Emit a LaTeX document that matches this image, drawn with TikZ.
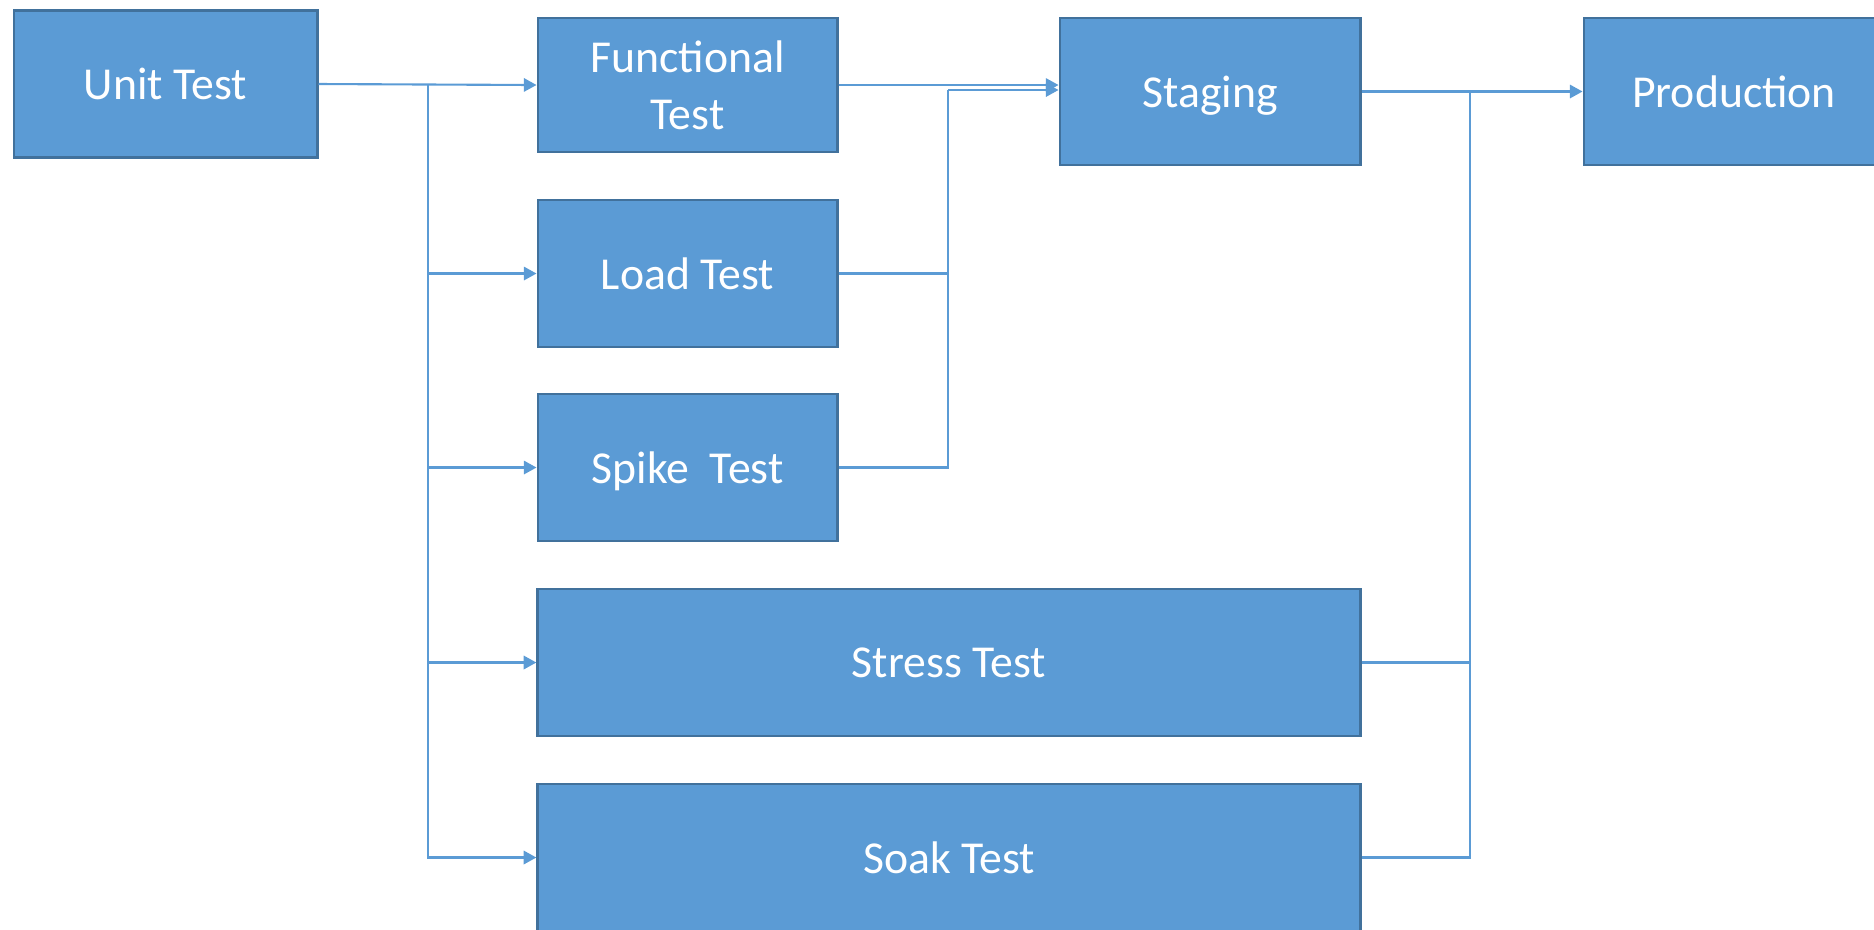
\documentclass[tikz,border=0pt]{standalone}
\usepackage{fontspec}
\setmainfont{Carlito}
\usepackage{tikz}
\usetikzlibrary{arrows.meta,positioning}
\definecolor{boxblue}{HTML}{5B9BD5}
\definecolor{edgeblue}{HTML}{41719C}
\tikzset{
    stage box/.style={rectangle, draw=edgeblue, line width=0.8pt, fill=boxblue, text=white,
        align=center, inner sep=0pt, text depth=0pt, font=\fontsize{13}{16}\selectfont},
    short box/.style={stage box, minimum width=2.99cm, minimum height=1.47cm},
    wide box/.style={stage box, minimum width=8.22cm, minimum height=1.47cm},
    flow/.style={draw=boxblue, line width=0.6pt}
}
\begin{document}
\begin{tikzpicture}[x=0.01cm, y=-0.01cm, >={Triangle[length=3.6pt,width=3.8pt]}]
	\useasboundingbox (0,0) rectangle (1874,929);
	% stages
	\node[short box, minimum width=3.03cm] (unit) at (165.5,84) {Unit Test};
	\node[short box, minimum height=1.34cm] (func) at (687.5,85) {Functional\\Test};
	\node[short box] (load) at (687.5,273.5) {Load Test};
	\node[short box] (spike) at (687.5,467.5) {Spike\ \ Test};
	\node[wide box] (stress) at (949,662.5) {Stress Test};
	\node[wide box] (soak) at (949,857.5) {Soak Test};
	\node[short box, minimum width=3cm] (staging) at (1210,91.5) {Staging};
	\node[short box, minimum width=3cm] (prod) at (1734,91.5) {Production};
	% branch and merge points
	\coordinate (split) at (428,85);
	\coordinate (join1) at (948,90);
	\coordinate (join2) at (1470,91.5);
	% unit test fans out
	\draw[flow,->] (unit.east) -- (func.west);
	\draw[flow,->] (split) |- (load.west);
	\draw[flow,->] (split) |- (spike.west);
	\draw[flow,->] (split) |- (stress.west);
	\draw[flow,->] (split) |- (soak.west);
	% into staging
	\draw[flow,->] (func.east) -- (func.east -| staging.west);
	\draw[flow] (load.east) -| (join1);
	\draw[flow] (spike.east) -| (join1);
	\draw[flow,->] (join1) -- (join1 -| staging.west);
	% into production
	\draw[flow] (stress.east) -| (join2);
	\draw[flow] (soak.east) -| (join2);
	\draw[flow,->] (staging.east) -- (prod.west);
\end{tikzpicture}
\end{document}
